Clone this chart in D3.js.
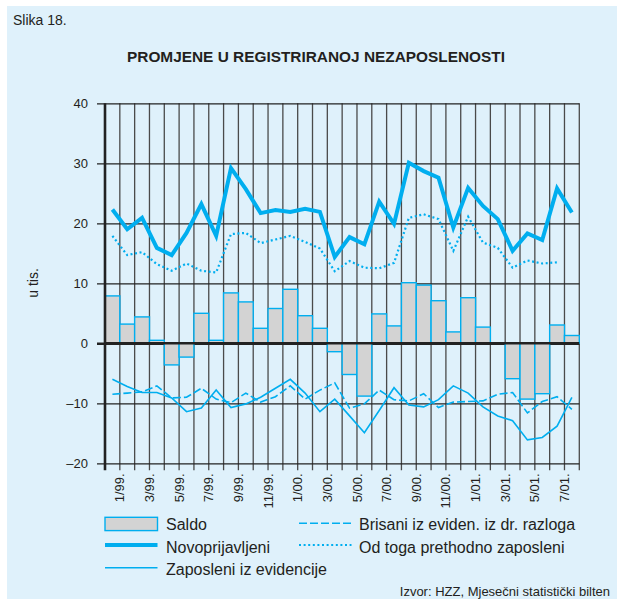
<!DOCTYPE html>
<html>
<head>
<meta charset="utf-8">
<script src="https://cdn.jsdelivr.net/npm/d3@7"></script>
<style>
  body { margin: 0; background: #fff; }
  svg { display: block; }
  text { font-family: "Liberation Sans", Arial, sans-serif; fill: #231f20; }
</style>
</head>
<body>
<div id="chart"></div>
<script>
// Months (band per month) and tick labels
let months = ["1/99","2/99","3/99","4/99","5/99","6/99","7/99","8/99","9/99","10/99","11/99","12/99",
  "1/00","2/00","3/00","4/00","5/00","6/00","7/00","8/00","9/00","10/00","11/00","12/00",
  "1/01","2/01","3/01","4/01","5/01","6/01","7/01","8/01"];
let tickMonths = ["1/99","3/99","5/99","7/99","9/99","11/99","1/00","3/00","5/00","7/00","9/00","11/00","1/01","3/01","5/01","7/01"];
let yTicks = [40, 30, 20, 10, 0, -10, -20];

// Series values (thousands)
let saldo = [7.9, 3.2, 4.4, 0.5, -3.6, -2.3, 5.0, 0.5, 8.4, 6.9, 2.5, 5.8, 9.0, 4.6, 2.5, -1.4,
  -5.2, -8.8, 4.9, 2.9, 10.1, 9.7, 7.1, 1.9, 7.6, 2.7, 0, -5.9, -9.3, -8.4, 3.05, 1.3];
let novoprijavljeni = [22.3, 19.0, 20.9, 15.9, 14.7, 18.4, 23.2, 17.9, 29.2, 25.7, 21.7, 22.2, 21.9, 22.4, 21.9, 14.4,
  17.7, 16.5, 23.6, 19.9, 30.1, 28.7, 27.6, 19.3, 25.9, 22.9, 20.7, 15.4, 18.3, 17.2, 25.8, 21.8];
let prethodnoZaposleni = [17.9, 14.7, 15.2, 13.2, 12.1, 13.3, 12.1, 11.8, 18.2, 18.4, 16.7, 17.3, 17.9, 16.9, 15.8, 12.0,
  13.7, 12.6, 12.5, 13.4, 20.9, 21.5, 20.7, 15.4, 21.1, 16.8, 15.9, 12.6, 13.8, 13.3, 13.5, null];
let zaposleni = [-6.0, -7.2, -8.2, -8.2, -9.1, -11.4, -10.8, -7.8, -10.7, -10.1, -9.0, -7.5, -6.0, -8.3, -11.4, -9.3,
  -12.1, -14.9, -11.2, -7.4, -10.3, -10.6, -9.4, -7.1, -8.3, -10.6, -12.1, -12.9, -16.1, -15.7, -13.8, -9.0];
let brisani = [-8.5, -8.3, -8.1, -7.1, -9.1, -9.0, -7.5, -9.3, -9.9, -8.3, -9.8, -8.9, -7.1, -9.3, -7.8, -6.6,
  -10.8, -10.1, -7.8, -9.4, -9.6, -8.4, -10.7, -9.8, -9.7, -9.6, -8.5, -8.2, -11.6, -9.7, -8.9, -11.0];

let blue = "#00aeef";

function BuildGraph(){
  let width = 617, height = 599;
  let left = 105, right = 579.3, top = 103.3, bottom = 463.3;

  let svg = d3.select('#chart')
    .append('svg')
    .attr('width', width)
    .attr('height', height);

  // panel background
  svg.append('rect')
    .attr('x', 7).attr('y', 6)
    .attr('width', width - 7).attr('height', height - 6)
    .attr('fill', '#dff1fb');

  let x = d3.scaleBand().domain(months).range([left, right]).padding(0);
  let y = d3.scaleLinear().domain([-20, 40]).range([bottom, top]);

  // Title texts
  svg.append('text')
    .attr('x', 13).attr('y', 25)
    .style('font-family', '"Liberation Sans Narrow", "Liberation Sans", Arial')
    .style('font-size', '14px')
    .text('Slika 18.');
  svg.append('text')
    .attr('x', 316).attr('y', 62)
    .attr('text-anchor', 'middle')
    .style('font-family', '"Liberation Sans Narrow", "Liberation Sans", Arial')
    .style('font-weight', 'bold')
    .style('font-size', '15.4px')
    .text('PROMJENE U REGISTRIRANOJ NEZAPOSLENOSTI');

  // vertical grid lines (one per month boundary)
  svg.append('g')
    .selectAll('line')
    .data(months.slice(1))
    .enter()
    .append('line')
    .attr('x1', (d) => x(d)).attr('x2', (d) => x(d))
    .attr('y1', top).attr('y2', bottom + 7)
    .attr('stroke', '#4a4a4a')
    .attr('stroke-width', 1.3);
  svg.append('line')
    .attr('x1', right).attr('x2', right)
    .attr('y1', top).attr('y2', bottom + 7)
    .attr('stroke', '#4a4a4a').attr('stroke-width', 1.3);

  // horizontal grid lines + left ticks
  let y_axis = d3.axisLeft(y)
    .tickValues(yTicks)
    .tickSize(right - left + 8)
    .tickPadding(9)
    .tickFormat((d) => d < 0 ? "\u2013" + Math.abs(d) : d);
  let yg = svg.append('g')
    .attr('transform', 'translate(' + right + ',0)')
    .call(y_axis);
  yg.select('.domain').remove();
  yg.selectAll('.tick line')
    .attr('stroke', '#222')
    .attr('stroke-width', (d) => d == 0 ? 2.6 : 1.3);
  yg.selectAll('.tick text')
    .style('font-size', '13px')
    .style('font-family', '"Liberation Sans", Arial')
    .attr('fill', '#231f20');

  // bars
  svg.append('g')
    .selectAll('rect')
    .data(saldo)
    .enter()
    .append('rect')
    .attr('x', (d, i) => x(months[i]))
    .attr('width', x.bandwidth())
    .attr('y', (d) => y(Math.max(0, d)))
    .attr('height', (d) => Math.abs(y(d) - y(0)))
    .attr('fill', '#d3d3d3')
    .attr('stroke', d => d == 0 ? 'none' : blue)
    .attr('stroke-width', 1.4);

  // re-draw zero line over bars
  svg.append('line')
    .attr('x1', left).attr('x2', right)
    .attr('y1', y(0)).attr('y2', y(0))
    .attr('stroke', '#222').attr('stroke-width', 2.6);

  // left axis line
  svg.append('line')
    .attr('x1', left).attr('x2', left)
    .attr('y1', top).attr('y2', bottom + 7)
    .attr('stroke', '#222').attr('stroke-width', 2.6);

  let cx = (i) => x(months[i]) + x.bandwidth() / 2;
  let line = d3.line()
    .defined((d) => d != null)
    .x((d, i) => cx(i))
    .y((d) => y(d));

  svg.append('path').datum(brisani)
    .attr('d', line).attr('fill', 'none')
    .attr('stroke', blue).attr('stroke-width', 1.6)
    .attr('stroke-dasharray', '8,3');
  svg.append('path').datum(zaposleni)
    .attr('d', line).attr('fill', 'none')
    .attr('stroke', blue).attr('stroke-width', 1.6);
  svg.append('path').datum(prethodnoZaposleni)
    .attr('d', line).attr('fill', 'none')
    .attr('stroke', blue).attr('stroke-width', 2.2)
    .attr('stroke-dasharray', '2,2.6');
  svg.append('path').datum(novoprijavljeni)
    .attr('d', line).attr('fill', 'none')
    .attr('stroke', blue).attr('stroke-width', 4)
    .attr('stroke-linejoin', 'miter');

  // x labels (rotated, at end of month)
  svg.append('g')
    .selectAll('text')
    .data(tickMonths)
    .enter()
    .append('text')
    .attr('transform', (d) => 'translate(' + (x(d) + x.bandwidth()) + ',' + (bottom + 10) + ')rotate(-90)')
    .attr('text-anchor', 'end')
    .attr('dy', '0.35em')
    .style('font-size', '13px')
    .text((d) => d + '.');

  // y-axis title
  svg.append('text')
    .attr('transform', 'translate(33,283)rotate(-90)')
    .attr('text-anchor', 'middle')
    .attr('dy', '0.35em')
    .style('font-size', '14px')
    .text('u tis.');

  // legend
  let legend = svg.append('g').attr('id', 'legend');
  legend.append('rect')
    .attr('x', 105).attr('y', 517.3)
    .attr('width', 52.5).attr('height', 13.3)
    .attr('fill', '#d3d3d3').attr('stroke', blue).attr('stroke-width', 1.4);
  let items = [
    { label: "Saldo", x: 166, y: 529.5 },
    { label: "Novoprijavljeni", x: 166, y: 552.5, lx: 105, ly: 545, w: 4 },
    { label: "Zaposleni iz evidencije", x: 166, y: 575, lx: 105, ly: 567.7, w: 1.6 },
    { label: "Brisani iz eviden. iz dr. razloga", x: 359, y: 529.5, lx: 299, ly: 523.3, w: 1.6, dash: '8,3' },
    { label: "Od toga prethodno zaposleni", x: 359, y: 552.5, lx: 299, ly: 545, w: 2, dash: '2,2.6' }
  ];
  items.forEach((it) => {
    if (it.lx != null) {
      legend.append('line')
        .attr('x1', it.lx).attr('x2', it.lx + 52.5)
        .attr('y1', it.ly).attr('y2', it.ly)
        .attr('stroke', blue).attr('stroke-width', it.w)
        .attr('stroke-dasharray', it.dash || null);
    }
    legend.append('text')
      .attr('x', it.x).attr('y', it.y)
      .style('font-size', '16px')
      .text(it.label);
  });

  // source
  svg.append('text')
    .attr('x', 610).attr('y', 596)
    .attr('text-anchor', 'end')
    .style('font-size', '13px')
    .text('Izvor: HZZ, Mjesečni statistički bilten');
}

document.addEventListener('DOMContentLoaded', function(){
  BuildGraph();
});
</script>
</body>
</html>
